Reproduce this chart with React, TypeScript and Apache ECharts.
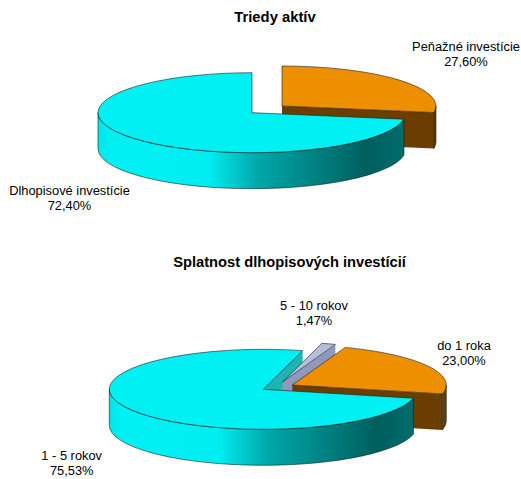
import React, { useEffect, useRef } from "react";
import * as echarts from "echarts";

const assetTitle = "Triedy aktív";
const assetNames = ["Peňažné investície", "Dlhopisové investície"];
const assetValues = [27.6, 72.4];
const maturityTitle = "Splatnost dlhopisových investícií";
const maturityNames = ["5 - 10 rokov", "do 1 roka", "1 - 5 rokov"];
const maturityValues = [1.47, 23.0, 75.53];

const RX = 154;
const RY = 40;
const DEPTH = 36;
const RAD = Math.PI / 180;

const CYAN_WALL = {
  type: "linear", x: 0, y: 0, x2: 1, y2: 0,
  colorStops: [
    { offset: 0, color: "#00e4e8" },
    { offset: 0.04, color: "#00f0f4" },
    { offset: 0.36, color: "#00eef2" },
    { offset: 0.52, color: "#00a8aa" },
    { offset: 0.88, color: "#005e5e" },
    { offset: 1, color: "#006c6c" },
  ],
};
const STYLES: Record<string, any> = {
  orange: { top: "#ee8f00", wall: "#6b3e00", cut: "#6b3e00" },
  cyan: { top: "#00f0f4", wall: CYAN_WALL, cut: "#1fb4b4" },
  slate: { top: "#b4bfdc", wall: "#8f99bd", cut: "#8f99bd" },
};
const LINE = "rgba(20,30,30,0.75)";

// per-slice layout, same order as the values: centre, z, label
const ASSET_LAYOUT = [
  { cx: 282, cy: 106, style: "orange", z: 4, lx: 466, ly: 53.5 },
  { cx: 252, cy: 112.7, style: "cyan", z: 8, lx: 69.5, ly: 197.5, cutZ: 0 },
];
const MATURITY_LAYOUT = [
  { cx: 282.5, cy: 382, style: "slate", z: 2, lx: 314, ly: 313 },
  { cx: 292.3, cy: 385, style: "orange", z: 4, lx: 464, ly: 353 },
  { cx: 263.3, cy: 389.3, style: "cyan", z: 8, lx: 71.7, ly: 463, cutZ: 0 },
];

const pt = (cx: number, cy: number, a: number, dy = 0) => [
  +(cx + RX * Math.sin(a * RAD)).toFixed(2),
  +(cy - RY * Math.cos(a * RAD) + dy).toFixed(2),
];

function arcTo(cx: number, cy: number, a1: number, a2: number, dy = 0) {
  const p = pt(cx, cy, a2, dy);
  const large = Math.abs(a2 - a1) > 180 ? 1 : 0;
  const sweep = a2 > a1 ? 1 : 0;
  return `A${RX} ${RY} 0 ${large} ${sweep} ${p[0]} ${p[1]}`;
}

function pieSeries(values: number[], names: string[], layout: any[], startAngle: number) {
  const total = values.reduce((s, v) => s + v, 0);
  return {
    type: "custom",
    coordinateSystem: "none",
    silent: true,
    data: values.map((v, i) => ({ name: names[i], value: v })),
    renderItem: (params: any) => {
      const i = params.dataIndex;
      const before = values.slice(0, i).reduce((s, v) => s + v, 0);
      const a1 = startAngle + (before / total) * 360;
      const a2 = a1 + (values[i] / total) * 360;
      const { cx, cy, style, z, lx, ly, cutZ } = layout[i];
      const st = STYLES[style];
      const children: any[] = [];
      const add = (d: string, fill: any, z2: number, stroke = true) =>
        children.push({
          type: "path",
          z2,
          shape: { pathData: d },
          style: { fill, stroke: stroke ? LINE : "none", lineWidth: 0.8 },
        });

      const cutFace = (a: number, zz: number) => {
        const r = pt(cx, cy, a);
        const rb = pt(cx, cy, a, DEPTH);
        add(`M${cx} ${cy}L${r[0]} ${r[1]}L${rb[0]} ${rb[1]}L${cx} ${cy + DEPTH}Z`, st.cut, zz, false);
      };
      if (Math.sin(a1 * RAD) < -1e-6) cutFace(a1, z);
      if (Math.sin(a2 * RAD) > 1e-6) cutFace(a2, cutZ ?? z);

      // outer wall: only the part of the rim that faces the viewer
      const w1 = Math.max(a1, 90);
      const w2 = Math.min(a2, 270);
      if (w2 > w1) {
        const p1 = pt(cx, cy, w1);
        const p2b = pt(cx, cy, w2, DEPTH);
        add(
          `M${p1[0]} ${p1[1]}${arcTo(cx, cy, w1, w2)}L${p2b[0]} ${p2b[1]}${arcTo(cx, cy, w2, w1, DEPTH)}Z`,
          st.wall,
          z + 1,
        );
      }
      // top face
      const s = pt(cx, cy, a1);
      add(`M${cx} ${cy}L${s[0]} ${s[1]}${arcTo(cx, cy, a1, a2)}Z`, st.top, z + 2);

      children.push({
        type: "text",
        z2: 20,
        style: {
          x: lx,
          y: ly,
          text: `${names[i]}\n${values[i].toFixed(2).replace(".", ",")}%`,
          fill: "#000",
          font: "12.85px 'Liberation Sans', Arial, sans-serif",
          align: "center",
          verticalAlign: "middle",
          lineHeight: 15,
        },
      });
      return { type: "group", children };
    },
  };
}

export default function App() {
  const ref = useRef<HTMLDivElement>(null);
  useEffect(() => {
    const chart = echarts.init(ref.current!, undefined, { renderer: "svg" });
    chart.setOption({
      animation: false,
      backgroundColor: "#fff",
      title: [
        {
          text: assetTitle, left: 270, top: 4, textAlign: "center",
          textStyle: { fontFamily: "'Liberation Sans', Arial, sans-serif", fontSize: 14.8, fontWeight: "bold", color: "#000" },
        },
        {
          text: maturityTitle, left: 284.5, top: 249, textAlign: "center",
          textStyle: { fontFamily: "'Liberation Sans', Arial, sans-serif", fontSize: 14.7, fontWeight: "bold", color: "#000" },
        },
      ],
      series: [
        pieSeries(assetValues, assetNames, ASSET_LAYOUT, 0),
        pieSeries(maturityValues, maturityNames, MATURITY_LAYOUT, 14.8),
      ],
    });
    return () => chart.dispose();
  }, []);
  return <div ref={ref} style={{ position: "absolute", left: 0, top: 0, width: 521, height: 479 }} />;
}
